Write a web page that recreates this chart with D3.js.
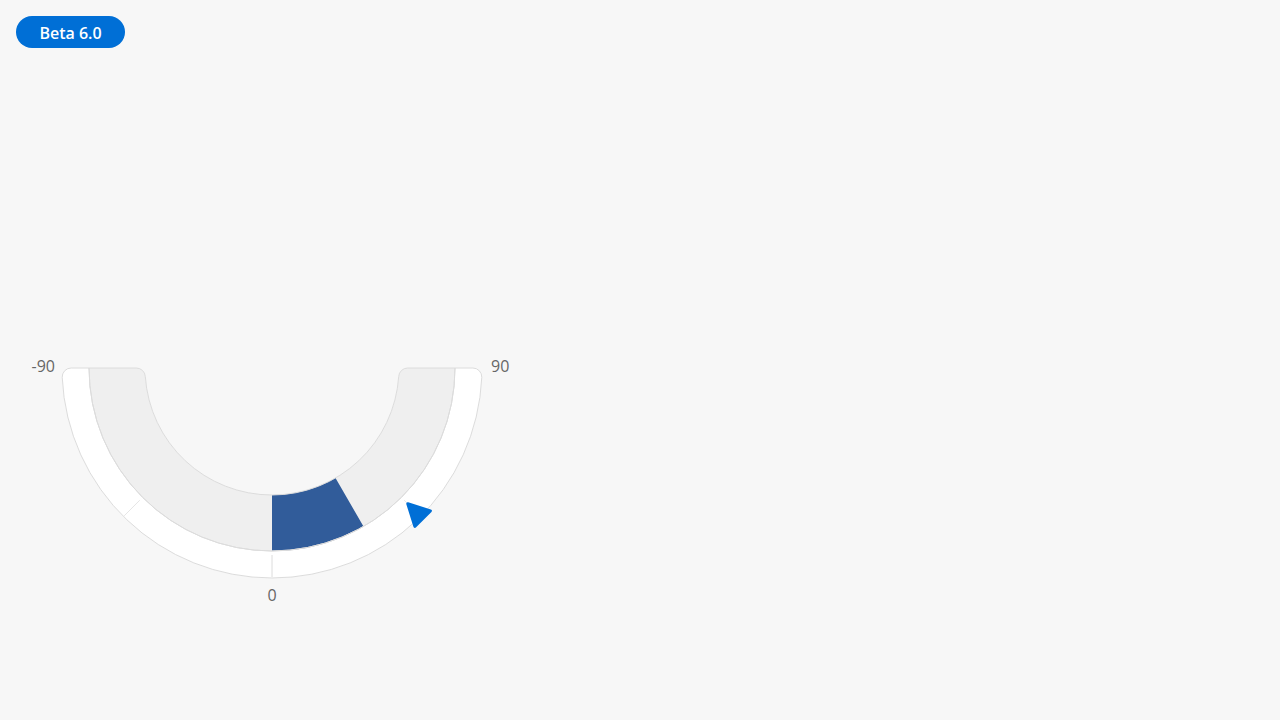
<!DOCTYPE html>
<html>
<head>
<meta charset="utf-8">
<script src="https://cdn.jsdelivr.net/npm/d3@7"></script>
<style>
  html, body { margin: 0; padding: 0; background: #f7f7f7; }
  body { width: 1280px; height: 720px; overflow: hidden; font-family: "Open Sans", sans-serif; }
</style>
</head>
<body>
<svg id="chart" width="1280" height="720"></svg>
<script>
// gauge data
const scaleDomain = [-90, 90];
const tickValues = [-90, 0, 90];
const tickLabels = ["-90", "0", "90"];
const bandTicks = [-45, 0, 45];
const barValues = [0, 30];     // bar from / to
const pointerValues = [45];

const svg = d3.select("#chart");

// badge
const badge = svg.append("g").attr("transform", "translate(16,16)");
badge.append("rect").attr("width", 109).attr("height", 32).attr("rx", 16).attr("fill", "#006fd6");
badge.append("text").attr("x", 54.5).attr("y", 16.5).attr("text-anchor", "middle")
  .attr("dominant-baseline", "central").attr("fill", "#fff")
  .attr("font-size", 16).attr("font-weight", 600).text("Beta 6.0");

// gauge geometry
const cx = 272, cy = 368;
const rIn = 127, rMid = 183, rOut = 210;

const angle = d3.scaleLinear().domain(scaleDomain).range([1.5 * Math.PI, 0.5 * Math.PI]);

const g = svg.append("g").attr("transform", `translate(${cx},${cy})`);

const fullArc = d3.arc().innerRadius(rIn).outerRadius(rOut).cornerRadius(9)
  .startAngle(angle(scaleDomain[0])).endAngle(angle(scaleDomain[1]));

g.append("clipPath").attr("id", "bandClip").append("path").attr("d", fullArc());

// white outer background
g.append("path").attr("d", fullArc()).attr("fill", "#fff");

// gray inner band, clipped so the outer shape keeps its rounded ends
g.append("path")
  .attr("clip-path", "url(#bandClip)")
  .attr("d", d3.arc().innerRadius(rIn).outerRadius(rMid)
    .startAngle(angle(scaleDomain[0])).endAngle(angle(scaleDomain[1]))())
  .attr("fill", "#efefef");

// value bar
g.append("path")
  .attr("d", d3.arc().innerRadius(rIn).outerRadius(rMid)
    .startAngle(angle(barValues[0])).endAngle(angle(barValues[1]))())
  .attr("fill", "#315c9a");

// separator between bands
g.append("path")
  .attr("clip-path", "url(#bandClip)")
  .attr("d", d3.arc().innerRadius(rMid).outerRadius(rMid)
    .startAngle(angle(scaleDomain[0])).endAngle(angle(scaleDomain[1]))())
  .attr("fill", "none").attr("stroke", "#dcdcdc").attr("stroke-width", 1);

// outline
g.append("path").attr("d", fullArc()).attr("fill", "none")
  .attr("stroke", "#dcdcdc").attr("stroke-width", 1);

// small tick lines in the outer band
g.selectAll(".bandTick").data(bandTicks).join("line")
  .attr("class", "bandTick")
  .attr("x1", d => (rMid + 4) * Math.sin(angle(d)))
  .attr("y1", d => -(rMid + 4) * Math.cos(angle(d)))
  .attr("x2", d => (rOut - 1) * Math.sin(angle(d)))
  .attr("y2", d => -(rOut - 1) * Math.cos(angle(d)))
  .attr("stroke", d => d === 0 ? "#dcdcdc" : "#e6e6e6").attr("stroke-width", 1);

// labels
const labelR = 217;
g.selectAll(".tickLabel").data(tickValues).join("text")
  .attr("class", "tickLabel")
  .attr("x", d => d > 0 ? labelR + 2 : labelR * Math.sin(angle(d)))
  .attr("y", d => d === 0 ? (labelR + 1) * -Math.cos(angle(d)) + 1 : 0)
  .attr("text-anchor", d => d < 0 ? "end" : d > 0 ? "start" : "middle")
  .attr("dominant-baseline", d => d === 0 ? "hanging" : "middle")
  .attr("font-size", 16).attr("fill", "#666")
  .text((d, i) => tickLabels[i]);

// pointer triangle, tip towards the centre
const triPath = "M0,13 L11,-8 L-11,-8 Z";
g.selectAll(".pointer").data(pointerValues).join("path")
  .attr("class", "pointer")
  .attr("d", triPath)
  .attr("transform", d => {
    const a = angle(d), r = 205;
    const deg = a * 180 / Math.PI;
    return `translate(${r * Math.sin(a)},${-r * Math.cos(a)}) rotate(${deg})`;
  })
  .attr("fill", "#006fd6").attr("stroke", "#006fd6")
  .attr("stroke-width", 3).attr("stroke-linejoin", "round");
</script>
</body>
</html>
